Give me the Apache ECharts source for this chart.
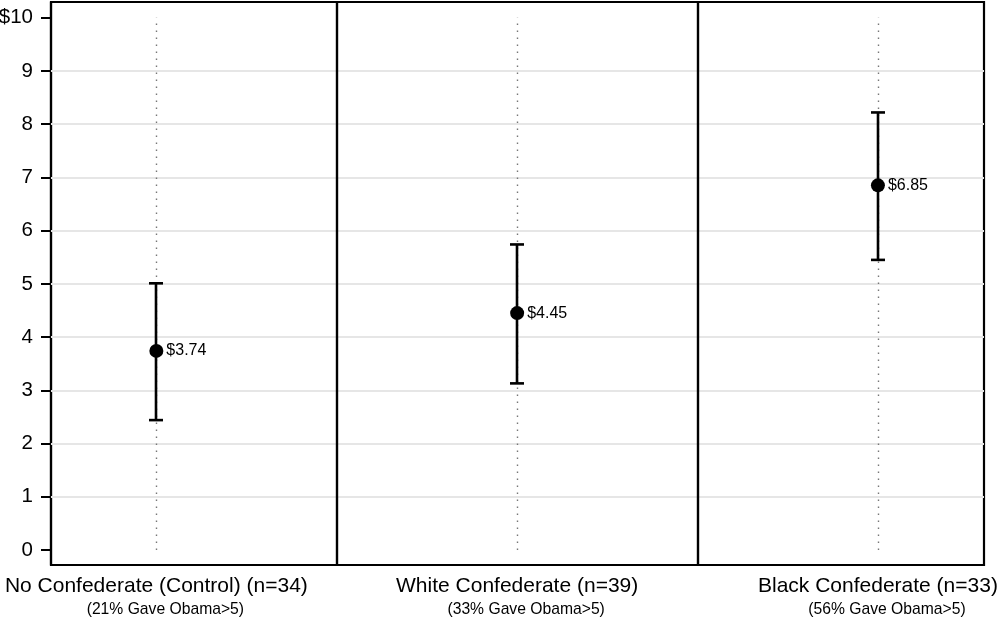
<!DOCTYPE html>
<html>
<head>
<meta charset="utf-8">
<script src="https://cdn.jsdelivr.net/npm/echarts@6/dist/echarts.min.js"></script>
<style>html,body{margin:0;padding:0;background:#fff}#c{width:1000px;height:619px}</style>
</head>
<body>
<div id="c"></div>
<script>
var groupPositions = [1, 2, 3];
var groupTitles = ['No Confederate (Control) (n=34)', 'White Confederate (n=39)', 'Black Confederate (n=33)'];
var groupSubtitles = ['(21% Gave Obama>5)', '(33% Gave Obama>5)', '(56% Gave Obama>5)'];
var means = [3.74, 4.45, 6.85];
var lowerCI = [2.44, 3.13, 5.45];
var upperCI = [5.01, 5.74, 8.22];
var yTicks = [0, 1, 2, 3, 4, 5, 6, 7, 8, 9, 10];
var gridValues = [1, 2, 3, 4, 5, 6, 7, 8, 9];
var dividers = [1.5, 2.5];

var font = 'Liberation Sans, Arial, sans-serif';
var chart = echarts.init(document.getElementById('c'));

var errData = groupPositions.map(function (x, i) { return [x, means[i], lowerCI[i], upperCI[i]]; });
var dotData = groupPositions.map(function (x, i) { return [x, means[i]]; });

chart.setOption({
  animation: false,
  backgroundColor: '#fff',
  grid: { left: 51, right: 16, top: 2, bottom: 54, show: true, borderColor: '#000', borderWidth: 2.2,
          containLabel: false, outerBoundsMode: 'none' },
  xAxis: {
    type: 'value', min: 0.708, max: 3.294,
    axisLine: { show: false, onZero: false },
    axisTick: { show: false },
    splitLine: { show: false },
    axisLabel: {
      customValues: groupPositions,
      margin: 9,
      fontFamily: font,
      formatter: function (v) {
        var i = groupPositions.indexOf(v);
        if (i < 0) return '';
        return '{t|' + groupTitles[i] + '}\n{s|' + groupSubtitles[i] + '}';
      },
      rich: {
        t: { fontSize: 21, color: '#000', lineHeight: 25, fontFamily: font },
        s: { fontSize: 15.7, color: '#000', lineHeight: 22, fontFamily: font, padding: [0, 0, 0, 18] }
      }
    }
  },
  yAxis: {
    type: 'value', min: -0.282, max: 10.295,
    axisLine: { show: true, onZero: false, lineStyle: { color: '#000', width: 2.2 } },
    axisTick: { show: true, customValues: yTicks, length: 10, lineStyle: { color: '#000', width: 2 } },
    splitLine: { show: false },
    axisLabel: {
      customValues: yTicks, margin: 18, fontSize: 20.5, color: '#000', fontFamily: font,
      formatter: function (v) { return v === 10 ? '$10' : String(v); }
    }
  },
  series: [
    {
      type: 'line', data: [], z: 1, silent: true,
      markLine: {
        silent: true, symbol: 'none', label: { show: false }, animation: false,
        lineStyle: { color: '#e6e6e6', width: 2, type: 'solid' },
        data: gridValues.map(function (v) { return { yAxis: v }; })
      }
    },
    {
      type: 'line', data: [], z: 2, silent: true,
      markLine: {
        silent: true, symbol: 'none', label: { show: false }, animation: false,
        lineStyle: { color: '#777', width: 1.4, type: [1.4, 5.6] },
        data: groupPositions.map(function (x) { return [{ coord: [x, 0] }, { coord: [x, 10] }]; })
      }
    },
    {
      type: 'line', data: [], z: 3, silent: true,
      markLine: {
        silent: true, symbol: 'none', label: { show: false }, animation: false,
        lineStyle: { color: '#000', width: 2.4, type: 'solid' },
        data: dividers.map(function (v) { return { xAxis: v }; })
      }
    },
    {
      type: 'custom', zlevel: 1, z: 4, data: errData,
      renderItem: function (params, api) {
        var x = api.value(0);
        var lo = api.coord([x, api.value(2)]);
        var hi = api.coord([x, api.value(3)]);
        var hw = 7;
        var cx = Math.round(lo[0]);
        var st = { stroke: '#000', lineWidth: 2.6, lineDash: null, fill: null, opacity: 1 };
        return {
          type: 'group',
          children: [
            { type: 'line', shape: { x1: cx, y1: lo[1], x2: cx, y2: hi[1] }, style: st },
            { type: 'line', shape: { x1: cx - hw, y1: lo[1], x2: cx + hw, y2: lo[1] }, style: st },
            { type: 'line', shape: { x1: cx - hw, y1: hi[1], x2: cx + hw, y2: hi[1] }, style: st }
          ]
        };
      }
    },
    {
      type: 'scatter', zlevel: 1, z: 5, data: dotData, symbol: 'circle', symbolSize: 14,
      itemStyle: { color: '#000', opacity: 1 },
      label: {
        show: true, position: 'right', distance: 3, fontSize: 16, color: '#000', opacity: 1, fontFamily: font,
        formatter: function (p) { return '$' + p.value[1].toFixed(2); }
      }
    }
  ]
});
</script>
</body>
</html>
